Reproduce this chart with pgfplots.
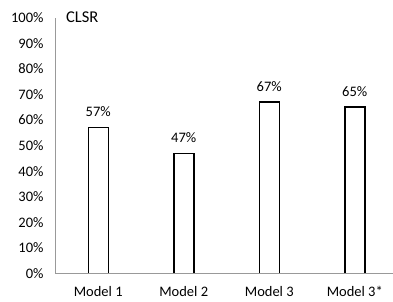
\documentclass[border=0pt]{standalone}
\usepackage{fontspec}
\setmainfont{Carlito}
\usepackage{pgfplots}
\pgfplotsset{compat=1.18}
\begin{document}
\fontsize{14.5bp}{17bp}\selectfont
\begin{tikzpicture}
\useasboundingbox (0,0) rectangle (393bp,302bp);
\begin{axis}[
  at={(55.5bp,28.5bp)}, anchor=south west,
  scale only axis,
  width=337.5bp, height=255.8bp,
  xmin=-0.5, xmax=3.447,
  ymin=0, ymax=100,
  axis x line*=bottom,
  axis y line*=left,
  axis line style={draw=black!40, line width=0.8pt},
  xtick={0,1,2,3},
  xticklabels={Model 1,Model 2,Model 3,Model 3*},
  ytick={0,10,...,100},
  yticklabel={\pgfmathprintnumber{\tick}\%},
  major tick length=0pt,
  /pgf/number format/assume math mode=true,
  tick label style={font=\fontsize{14.5bp}{17bp}\selectfont},
  xticklabel style={yshift=-8bp},
  yticklabel style={xshift=-7bp},
  clip=false,
]
\addplot[ybar, bar width=20bp, draw=black, fill=white, line width=1.5pt,
  nodes near coords={\pgfmathprintnumber{\pgfplotspointmeta}\%},
  nodes near coords style={font=\fontsize{14.5bp}{17bp}\selectfont, black, yshift=5bp},
  point meta=y]
  coordinates {(0,57) (1,47) (2,67) (3,65)};
\draw[draw=black!40, line width=0.8pt] (axis cs:-0.5,0) -- (axis cs:3.447,0);
\node[anchor=west, inner sep=0pt, font=\fontsize{16.5bp}{19bp}\selectfont] at (rel axis cs:0.031,1) {CLSR};
\end{axis}
\end{tikzpicture}
\end{document}
